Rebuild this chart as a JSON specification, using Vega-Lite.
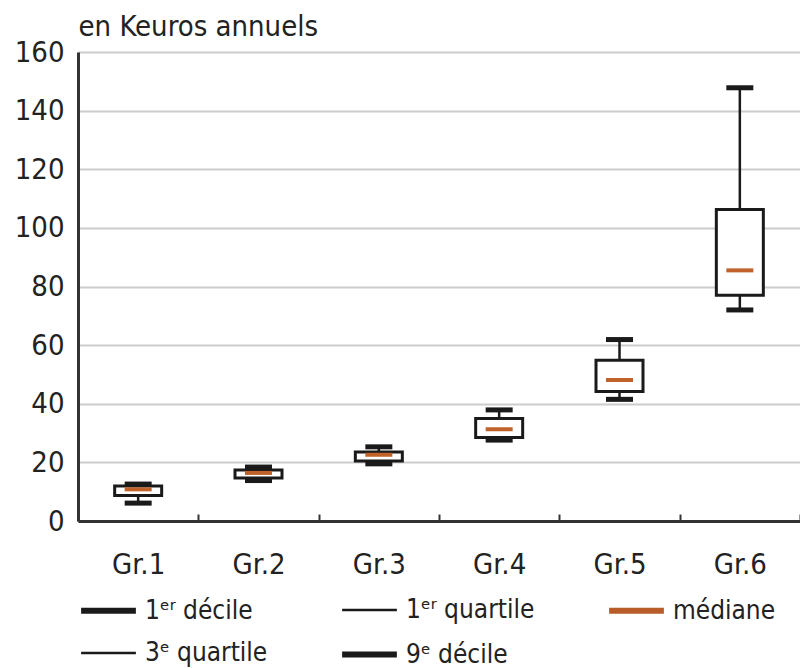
{
  "$schema": "https://vega.github.io/schema/vega-lite/v6.json",
  "autosize": "none",
  "width": 722,
  "height": 469,
  "padding": {"left": 78, "top": 52, "right": 0, "bottom": 147},
  "background": "white",
  "config": {
    "font": "Liberation Sans Narrow, DejaVu Sans Condensed, sans-serif",
    "view": {"stroke": null}
  },
  "datasets": {
    "stats": [
      {"g": "Gr.1", "d1": 6.1, "q1": 8.7, "med": 10.8, "q3": 11.9, "d9": 12.6},
      {"g": "Gr.2", "d1": 13.8, "q1": 14.7, "med": 16.4, "q3": 17.4, "d9": 18.4},
      {"g": "Gr.3", "d1": 19.5, "q1": 20.5, "med": 22.6, "q3": 23.5, "d9": 25.3},
      {"g": "Gr.4", "d1": 27.6, "q1": 28.5, "med": 31.3, "q3": 35.0, "d9": 37.9},
      {"g": "Gr.5", "d1": 41.5, "q1": 44.2, "med": 48.1, "q3": 54.8, "d9": 61.9},
      {"g": "Gr.6", "d1": 72.0, "q1": 77.0, "med": 85.5, "q3": 106.3, "d9": 147.8}
    ],
    "legend": [
      {"item": "1ᵉʳ décile"},
      {"item": "1ᵉʳ quartile"},
      {"item": "médiane"},
      {"item": "3ᵉ quartile"},
      {"item": "9ᵉ décile"}
    ]
  },
  "encoding": {
    "x": {
      "field": "g",
      "type": "nominal",
      "sort": null,
      "scale": {"paddingInner": 0, "paddingOuter": 0},
      "axis": {
        "title": null,
        "labelAngle": 0,
        "labelFontSize": 29,
        "labelColor": "#222",
        "labelPadding": 36,
        "domainColor": "#333",
        "domainWidth": 3,
        "tickColor": "#333",
        "tickWidth": 2,
        "tickSize": -7,
        "tickBand": "extent",
        "grid": false
      }
    }
  },
  "layer": [
    {
      "data": {"name": "stats"},
      "mark": {"type": "rule", "color": "#1a1a1a", "strokeWidth": 2.5},
      "encoding": {
        "y": {
          "field": "d1",
          "type": "quantitative",
          "scale": {"domain": [0, 160]},
          "axis": {
            "title": "en Keuros annuels",
            "titleAngle": 0,
            "titleAlign": "left",
            "titleBaseline": "alphabetic",
            "titleX": 0,
            "titleY": -17,
            "titleFontSize": 29,
            "titleFontWeight": "normal",
            "titleColor": "#222",
            "values": [0, 20, 40, 60, 80, 100, 120, 140, 160],
            "labelFontSize": 29,
            "labelColor": "#222",
            "labelPadding": 14,
            "ticks": false,
            "domainColor": "#333",
            "domainWidth": 3,
            "gridColor": "#cccccc",
            "gridWidth": 2
          }
        },
        "y2": {"field": "d9"}
      }
    },
    {
      "data": {"name": "stats"},
      "mark": {"type": "bar", "size": 47, "fill": "white", "stroke": "#1a1a1a", "strokeWidth": 3},
      "encoding": {
        "y": {"field": "q1", "type": "quantitative"},
        "y2": {"field": "q3"}
      }
    },
    {
      "data": {"name": "stats"},
      "mark": {"type": "tick", "size": 27, "thickness": 5, "color": "#1a1a1a", "opacity": 1},
      "encoding": {"y": {"field": "d1", "type": "quantitative"}}
    },
    {
      "data": {"name": "stats"},
      "mark": {"type": "tick", "size": 27, "thickness": 5, "color": "#1a1a1a", "opacity": 1},
      "encoding": {"y": {"field": "d9", "type": "quantitative"}}
    },
    {
      "data": {"name": "stats"},
      "mark": {"type": "tick", "size": 27, "thickness": 4, "color": "#c0622a", "opacity": 1},
      "encoding": {"y": {"field": "med", "type": "quantitative"}}
    },
    {
      "data": {"name": "legend"},
      "mark": {"type": "rule"},
      "encoding": {
        "x": {"datum": "Gr.1"},
        "y": {"datum": 0},
        "y2": {"datum": 0},
        "color": {
          "field": "item",
          "type": "nominal",
          "scale": {
            "domain": ["1ᵉʳ décile", "1ᵉʳ quartile", "médiane", "3ᵉ quartile", "9ᵉ décile"],
            "range": ["#1a1a1a", "#1a1a1a", "#b85c2a", "#1a1a1a", "#1a1a1a"]
          },
          "legend": {
            "title": null,
            "orient": "none",
            "legendX": 0,
            "legendY": 528,
            "columns": 3,
            "direction": "horizontal",
            "symbolType": "stroke",
            "symbolSize": 3000,
            "labelFontSize": 26,
            "labelColor": "#222",
            "labelOffset": 6,
            "columnPadding": 62,
            "rowPadding": -3,
            "labelLimit": 300
          }
        },
        "strokeWidth": {
          "field": "item",
          "type": "nominal",
          "scale": {
            "type": "ordinal",
            "domain": ["1ᵉʳ décile", "1ᵉʳ quartile", "médiane", "3ᵉ quartile", "9ᵉ décile"],
            "range": [6, 2.5, 6, 2.5, 6]
          }
        }
      }
    }
  ]
}
